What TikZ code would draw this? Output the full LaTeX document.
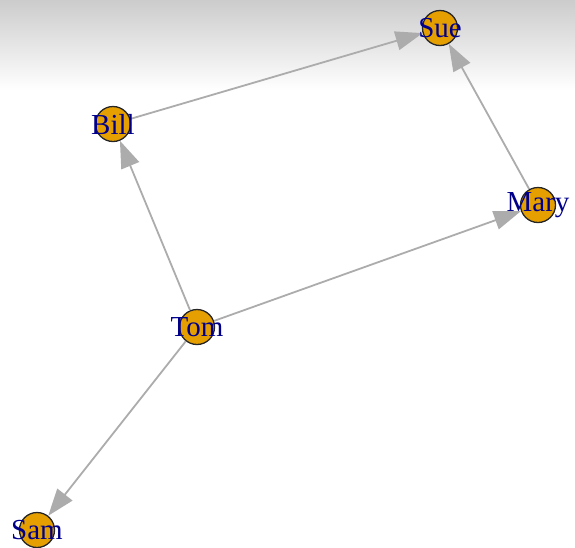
\documentclass[tikz,border=0pt]{standalone}
\usepackage{fontspec}
\setmainfont{Liberation Serif}
\usetikzlibrary{arrows.meta}
\definecolor{vfill}{HTML}{E69F00}
\definecolor{edgecol}{RGB}{172,172,172}
\definecolor{labcol}{HTML}{00008B}
\begin{document}
\begin{tikzpicture}[x=1pt,y=-1pt,
  vert/.style={circle,draw=black!85,line width=1.3pt,fill=vfill,minimum size=35pt,inner sep=0pt},
  lab/.style={text=labcol,font=\fontsize{29}{31}\selectfont,inner sep=0pt},
  edge/.style={draw=edgecol,line width=1.8pt,-{Triangle[length=27pt,width=19pt]}}]
\useasboundingbox (0,0) rectangle (575,547);
\shade[top color=black!20,bottom color=white] (0,0) rectangle (575,90);
\node[vert] (sue) at (440,28) {};
\node[vert] (bill) at (113,124) {};
\node[vert] (mary) at (538,205) {};
\node[vert] (tom) at (197,327) {};
\node[vert] (sam) at (37,530) {};
\draw[edge] (bill) -- (sue);
\draw[edge] (mary) -- (sue);
\draw[edge] (tom) -- (bill);
\draw[edge] (tom) -- (mary);
\draw[edge] (tom) -- (sam);
\node[lab] (lsue) at (sue) {Sue};
\node[lab] (lbill) at (bill) {Bill};
\node[lab] (lmary) at (mary) {Mary};
\node[lab] (ltom) at (tom) {Tom};
\node[lab] (lsam) at (sam) {Sam};
\end{tikzpicture}
\end{document}
